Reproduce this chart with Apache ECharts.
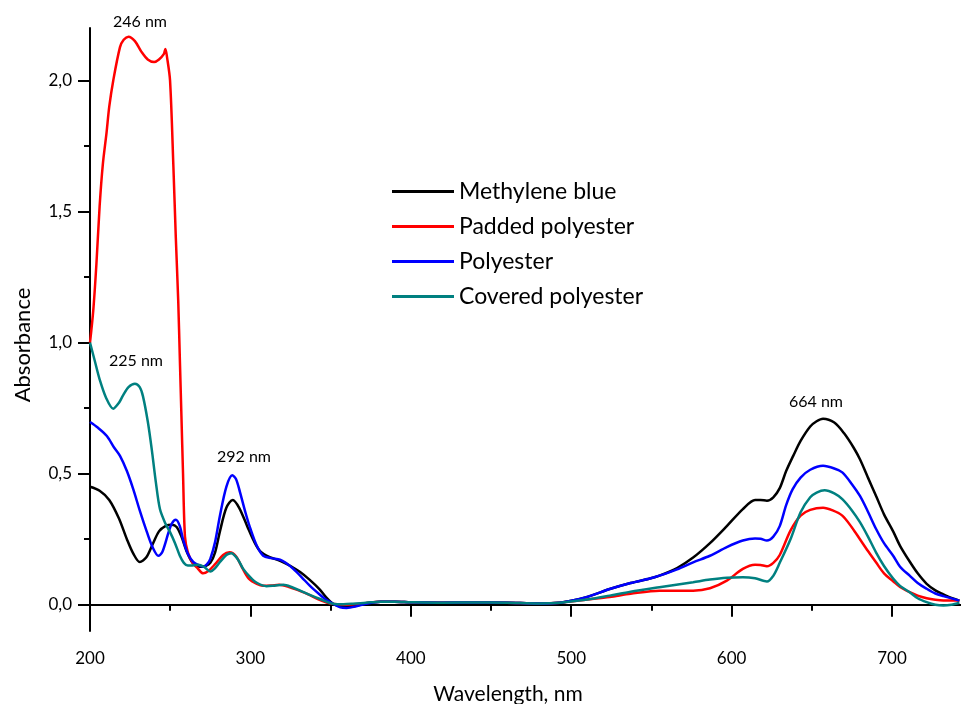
<!DOCTYPE html>
<html>
<head>
<meta charset="utf-8">
<script src="https://cdn.jsdelivr.net/npm/echarts@6/dist/echarts.min.js"></script>
<style>
html, body { margin: 0; padding: 0; background: #fff; }
#main { width: 961px; height: 704px; }
</style>
</head>
<body>
<div id="main"></div>
<script>
// series names, legend order
var names = ['Methylene blue', 'Padded polyester', 'Polyester', 'Covered polyester'];
var colors = ['#000000', '#ff0000', '#0000ff', '#008080'];

// shared flat part 381..493 nm
var flat = [[381, 0.012], [390, 0.012], [400, 0.01], [420, 0.008], [440, 0.009], [460, 0.008], [480, 0.005], [493, 0.008]];

// [wavelength, absorbance]
var methyleneBlue = [
    [200, 0.45], [206, 0.435], [212, 0.40], [218, 0.33], [223, 0.25], [227, 0.195], [231, 0.163], [235, 0.18],
    [239, 0.23], [243, 0.28], [247, 0.30], [251, 0.305], [254, 0.297], [257, 0.26], [260.5, 0.20], [264, 0.16],
    [268.5, 0.145], [272, 0.148], [275, 0.16], [278, 0.20], [281, 0.28], [285, 0.37], [289, 0.40], [293, 0.37],
    [298, 0.30], [302, 0.245], [306, 0.205], [312, 0.182], [318.5, 0.168], [325, 0.148], [331, 0.125], [337, 0.095],
    [343, 0.06], [347, 0.03], [351.5, 0.004], [356, -0.006], [360, -0.008], [366, -0.004], [372, 0.006]
].concat(flat, [
    [510, 0.03], [524, 0.06], [537, 0.083], [549, 0.1], [555, 0.111], [566, 0.14], [576, 0.18], [586.5, 0.235],
    [597, 0.30], [607, 0.365], [614.6, 0.40], [618, 0.40], [622, 0.397], [626, 0.41], [630, 0.445], [634, 0.51],
    [638.4, 0.568], [643, 0.625], [649, 0.68], [653, 0.7], [657, 0.71], [664, 0.695], [670, 0.655], [676, 0.6],
    [680, 0.555], [685, 0.485], [690.4, 0.41], [695, 0.345], [700.7, 0.28], [705, 0.225], [711, 0.165], [716, 0.12],
    [721.6, 0.08], [727, 0.055], [732, 0.04], [737, 0.026], [742, 0.016]
]);

var paddedPolyester = [
    [200, 1.0], [202, 1.12], [204, 1.3], [206, 1.52], [208, 1.68], [210.3, 1.80], [212, 1.9], [214.5, 2.0],
    [218.7, 2.127], [221, 2.155], [224, 2.167], [228, 2.15], [232, 2.11], [236, 2.08], [240, 2.07], [243, 2.08],
    [246, 2.1], [247, 2.12], [248, 2.09], [249.9, 2.0], [252, 1.67], [253.5, 1.4], [255, 1.16], [256, 0.94],
    [257, 0.72], [258, 0.5], [259.2, 0.26], [261, 0.2], [264, 0.16], [267, 0.14], [270.5, 0.12], [274, 0.13],
    [278, 0.155], [283, 0.19], [287, 0.2], [291, 0.185], [295, 0.14], [299, 0.1], [304, 0.08], [308, 0.073],
    [313, 0.074], [318, 0.076], [324, 0.068], [330, 0.055], [336, 0.04], [342, 0.022], [348, 0.008], [352, 0.003],
    [360, 0.0], [370, 0.005]
].concat(flat, [
    [510, 0.02], [524, 0.03], [537, 0.042], [555, 0.054], [576, 0.054], [586.5, 0.063], [597, 0.092], [607, 0.137],
    [614.6, 0.153], [618, 0.152], [622, 0.147], [626, 0.16], [630, 0.19], [636.7, 0.283], [643, 0.34], [649, 0.362],
    [657, 0.37], [663, 0.36], [669, 0.34], [675, 0.295], [680, 0.25], [685, 0.205], [690, 0.162], [695, 0.12],
    [700.7, 0.09], [705, 0.068], [711, 0.048], [716, 0.035], [721.6, 0.025], [727, 0.019], [732, 0.016], [742, 0.016]
]);

var polyester = [
    [200, 0.697], [205, 0.675], [210.5, 0.644], [215, 0.60], [218.7, 0.568], [223, 0.51], [227, 0.44], [231, 0.36],
    [235.5, 0.277], [239, 0.22], [242.6, 0.187], [245, 0.2], [249, 0.277], [251, 0.31], [253.5, 0.324], [256, 0.3],
    [258, 0.25], [261, 0.195], [264.5, 0.163], [268, 0.15], [270.7, 0.145], [273, 0.155], [275, 0.175], [278, 0.24],
    [281, 0.34], [285, 0.45], [288.7, 0.494], [291, 0.48], [293.5, 0.43], [297, 0.35], [300, 0.29], [304, 0.225],
    [308, 0.187], [313, 0.178], [318.5, 0.172], [322, 0.16], [326.7, 0.137], [332, 0.105], [337, 0.073], [343, 0.04],
    [347, 0.02], [351.5, 0.004], [356, -0.01], [360, -0.012], [366, -0.006], [372, 0.004]
].concat(flat, [
    [510, 0.03], [524, 0.06], [537, 0.083], [549, 0.1], [555, 0.111], [566, 0.135], [576, 0.162], [586.5, 0.187],
    [597, 0.22], [607, 0.245], [614.6, 0.253], [618, 0.252], [622, 0.245], [626, 0.26], [630, 0.3], [634, 0.38],
    [638, 0.44], [643, 0.485], [649, 0.515], [657, 0.53], [664, 0.52], [669, 0.505], [675, 0.46], [680, 0.415],
    [685, 0.355], [690, 0.29], [695, 0.235], [700.7, 0.187], [705, 0.145], [711, 0.111], [716, 0.083], [721.6, 0.061],
    [727, 0.043], [732, 0.033], [742, 0.016]
]);

var coveredPolyester = [
    [200, 1.0], [203, 0.93], [206, 0.86], [210, 0.79], [214.5, 0.748], [218, 0.77], [220.7, 0.80], [224, 0.83],
    [228, 0.843], [231, 0.83], [233, 0.796], [236, 0.7], [238.5, 0.593], [241, 0.47], [243.6, 0.365], [247, 0.31],
    [249.9, 0.277], [253, 0.235], [256, 0.187], [258.5, 0.16], [261, 0.15], [264, 0.15], [267.5, 0.153], [271, 0.145],
    [275, 0.127], [278, 0.14], [281, 0.163], [285, 0.19], [288, 0.197], [292, 0.175], [295.5, 0.137], [300, 0.105],
    [304, 0.084], [310, 0.071], [315, 0.073], [320.5, 0.076], [326, 0.067], [331, 0.054], [337, 0.038], [343, 0.023],
    [351.5, 0.004], [358, 0.002], [364, 0.004], [372, 0.008]
].concat(flat, [
    [510, 0.02], [524, 0.035], [537, 0.05], [555, 0.067], [576, 0.086], [586.5, 0.096], [597, 0.103], [607, 0.105],
    [614.6, 0.101], [622, 0.089], [626, 0.111], [630, 0.16], [636.7, 0.25], [643, 0.353], [649, 0.41], [653, 0.428],
    [658, 0.437], [664, 0.425], [669, 0.403], [675, 0.36], [680, 0.315], [685, 0.26], [690, 0.2], [695, 0.148],
    [700.7, 0.1], [705, 0.072], [711, 0.048], [716, 0.025], [721.6, 0.01], [727, 0.0], [732, -0.003], [737, 0.0],
    [742, 0.008]
]);

var allData = [methyleneBlue, paddedPolyester, polyester, coveredPolyester];

// ticks
var xMajor = [200, 300, 400, 500, 600, 700];
var xMinor = [250, 350, 450, 550, 650];
var yMajor = [0, 0.5, 1.0, 1.5, 2.0];
var yMinor = [0.25, 0.75, 1.25, 1.75];

// peak labels
var peakLabels = ['246 nm', '225 nm', '292 nm', '664 nm'];

var font = 'Lato';
var chart = echarts.init(document.getElementById('main'));

var series = [];
for (var i = 0; i < names.length; i++) {
    series.push({
        name: names[i],
        type: 'line',
        data: allData[i],
        smooth: 0.3,
        symbol: 'none',
        lineStyle: { color: colors[i], width: 2.5 },
        itemStyle: { color: colors[i] }
    });
}

function txt(s, x, y, size, rot) {
    return {
        type: 'text', x: x, y: y, rotation: rot || 0,
        style: { text: s, fontFamily: font, fontSize: size, fill: '#000', align: 'center', verticalAlign: 'middle' }
    };
}

var option = {
    backgroundColor: '#fff',
    animation: false,
    grid: { left: 90, right: 0, top: 28, bottom: 73 },
    legend: {
        orient: 'vertical',
        left: 387,
        top: 175,
        icon: 'rect',
        itemWidth: 62,
        itemHeight: 3,
        itemGap: 12,
        textStyle: { fontFamily: font, fontSize: 23, color: '#000' },
        data: names
    },
    xAxis: [
        {
            type: 'value', min: 200, max: 743, interval: 100,
            axisLine: { show: true, lineStyle: { color: '#000', width: 2 } },
            splitLine: { show: false },
            axisTick: { show: true, length: 12, customValues: xMajor, lineStyle: { color: '#000', width: 2 } },
            axisLabel: { customValues: xMajor, margin: 19, fontFamily: font, fontSize: 17, color: '#000' }
        },
        {
            type: 'value', min: 200, max: 743, position: 'bottom',
            axisLine: { show: false }, splitLine: { show: false },
            axisTick: { show: true, length: 6, customValues: xMinor, lineStyle: { color: '#000', width: 2 } },
            axisLabel: { show: false }
        }
    ],
    yAxis: [
        {
            type: 'value', min: -0.1, max: 2.2,
            axisLine: { show: true, lineStyle: { color: '#000', width: 2 } },
            splitLine: { show: false },
            axisTick: { show: true, length: 12, customValues: yMajor, lineStyle: { color: '#000', width: 2 } },
            axisLabel: {
                customValues: yMajor, margin: 18, fontFamily: font, fontSize: 17, color: '#000',
                formatter: function (v) { return v.toFixed(1).replace('.', ','); }
            }
        },
        {
            type: 'value', min: -0.1, max: 2.2, position: 'left',
            axisLine: { show: false }, splitLine: { show: false },
            axisTick: { show: true, length: 6, customValues: yMinor, lineStyle: { color: '#000', width: 2 } },
            axisLabel: { show: false }
        }
    ],
    graphic: [
        txt('Wavelength, nm', 508, 694, 21),
        txt('Absorbance', 23, 345, 22, Math.PI / 2),
        txt(peakLabels[0], 140, 22, 16),
        txt(peakLabels[1], 136, 361, 16),
        txt(peakLabels[2], 244, 457, 16),
        txt(peakLabels[3], 816, 402, 16)
    ],
    series: series
};

chart.setOption(option);
</script>
</body>
</html>
